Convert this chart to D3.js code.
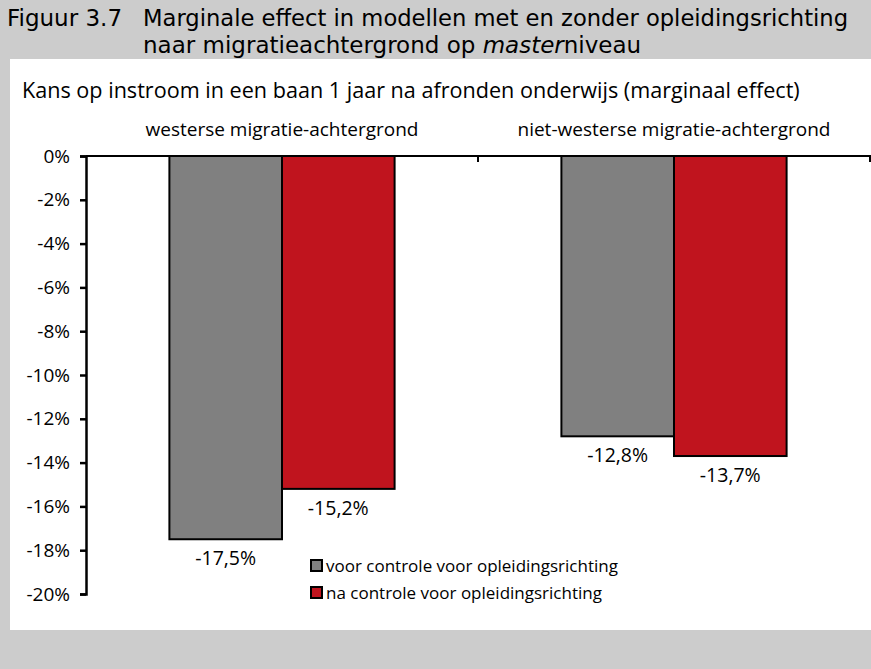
<!DOCTYPE html>
<html>
<head>
<meta charset="utf-8">
<script src="https://cdn.jsdelivr.net/npm/d3@7"></script>
<style>
  body { margin: 0; background: #cccccc; }
  svg { display: block; }
</style>
</head>
<body>
<div id="body"></div>
<script>
// data
var groups = ["westerse migratie-achtergrond", "niet-westerse migratie-achtergrond"];
var series = ["voor controle voor opleidingsrichting", "na controle voor opleidingsrichting"];
var voor = [-17.5, -12.8];
var na = [-15.2, -13.7];
var yTicks = [0, -2, -4, -6, -8, -10, -12, -14, -16, -18, -20];
var colors = ["#808080", "#c0141e"];

var W = 871, H = 669;
var svg = d3.select("#body").append("svg").attr("width", W).attr("height", H);

// background: gray frame, white panel
svg.append("rect").attr("width", W).attr("height", H).attr("fill", "#cccccc");
svg.append("rect").attr("x", 10).attr("y", 59).attr("width", W - 10).attr("height", 571).attr("fill", "#ffffff");

// title
var tfont = "'DejaVu Sans', sans-serif";
var title = svg.append("text").attr("font-family", tfont).attr("font-size", 23).attr("fill", "#000");
title.append("tspan").attr("x", 7).attr("y", 26).text("Figuur 3.7");
title.append("tspan").attr("x", 143).attr("y", 26).attr("textLength", 705).attr("lengthAdjust", "spacingAndGlyphs")
    .text("Marginale effect in modellen met en zonder opleidingsrichting");
var t2 = svg.append("text").attr("font-family", tfont).attr("font-size", 23).attr("fill", "#000")
    .attr("x", 143).attr("y", 53);
t2.append("tspan").text("naar migratieachtergrond op ");
t2.append("tspan").attr("font-style", "italic").text("master");
t2.append("tspan").text("niveau");

var font = "'Open Sans', sans-serif";

svg.append("text").attr("x", 22).attr("y", 98).attr("font-family", font).attr("font-size", 21.6)
    .text("Kans op instroom in een baan 1 jaar na afronden onderwijs (marginaal effect)");

var x0 = d3.scaleBand().domain(groups).range([86, 870]);
var x1 = d3.scaleBand().domain(series).range([0, x0.bandwidth()]).paddingOuter(0.7407).paddingInner(0);
var y = d3.scaleLinear().domain([-20, 0]).range([594, 156]);

// category labels
svg.selectAll(".cat").data(groups).enter().append("text")
    .attr("x", function(d){ return x0(d) + x0.bandwidth() / 2; })
    .attr("y", 136).attr("text-anchor", "middle")
    .attr("font-family", font).attr("font-size", 19).text(function(d){ return d; });

// bars
var rows = [];
groups.forEach(function(g, i){
    rows.push({g: g, s: series[0], v: voor[i], c: colors[0]});
    rows.push({g: g, s: series[1], v: na[i], c: colors[1]});
});

svg.selectAll(".bar").data(rows).enter().append("rect")
    .attr("x", function(d){ return x0(d.g) + x1(d.s); })
    .attr("y", y(0))
    .attr("width", x1.bandwidth())
    .attr("height", function(d){ return y(d.v) - y(0); })
    .attr("fill", function(d){ return d.c; })
    .attr("stroke", "#000").attr("stroke-width", 2);

svg.selectAll(".val").data(rows).enter().append("text")
    .attr("x", function(d){ return x0(d.g) + x1(d.s) + x1.bandwidth() / 2; })
    .attr("y", function(d){ return y(d.v) + 26; })
    .attr("text-anchor", "middle")
    .attr("font-family", font).attr("font-size", 19.5)
    .text(function(d){ return d.v.toFixed(1).replace(".", ",") + "%"; });

// y axis
var yAxis = d3.axisLeft(y).tickValues(yTicks).tickSize(6).tickPadding(10)
    .tickFormat(function(d){ return d + "%"; });
var ya = svg.append("g").attr("transform", "translate(86,0)").call(yAxis);
ya.select(".domain").attr("stroke-width", 2.5);
ya.selectAll(".tick line").attr("stroke-width", 2.5);
ya.selectAll("text").attr("font-family", font).attr("font-size", 19).attr("fill", "#000");

// x axis at zero
var xAxis = d3.axisBottom(x0).tickValues([]).tickSizeOuter(6);
var xa = svg.append("g").attr("transform", "translate(0," + y(0) + ")").call(xAxis);
xa.select(".domain").attr("stroke-width", 2).attr("d", "M86,0H870V6");
xa.append("line").attr("x1", x0(groups[1])).attr("x2", x0(groups[1]))
    .attr("y1", 0).attr("y2", 6).attr("stroke", "#000").attr("stroke-width", 2);

// legend
var leg = svg.selectAll(".leg").data(series).enter().append("g")
    .attr("transform", function(d, i){ return "translate(311," + (560 + i * 27) + ")"; });
leg.append("rect").attr("width", 11).attr("height", 11)
    .attr("fill", function(d, i){ return colors[i]; })
    .attr("stroke", "#000").attr("stroke-width", 2);
leg.append("text").attr("x", 15).attr("y", 12).attr("font-family", font).attr("font-size", 17)
    .text(function(d){ return d; });
</script>
</body>
</html>
